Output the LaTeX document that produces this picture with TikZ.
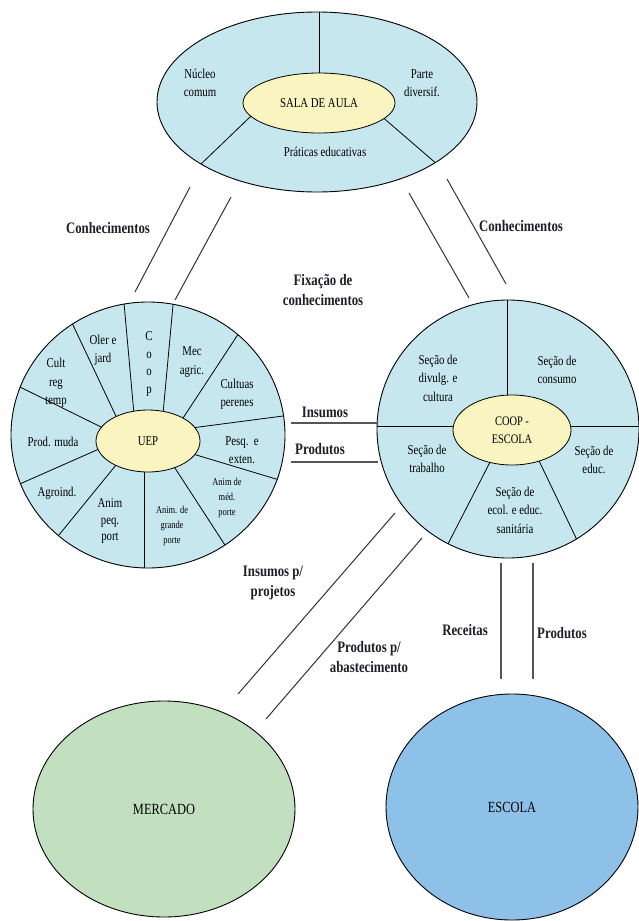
\documentclass[tikz,border=0pt]{standalone}
\usepackage{fontspec}
\setmainfont{Liberation Serif}[FakeStretch=0.8]
\usetikzlibrary{shapes.geometric,calc}
\definecolor{pale}{HTML}{C6E7EE}
\definecolor{yel}{HTML}{FAF4C0}
\definecolor{grn}{HTML}{C2E0C0}
\definecolor{blu}{HTML}{8EC1E8}
\definecolor{ink}{HTML}{1E1E28}
\definecolor{lin}{HTML}{333333}
\definecolor{lingray}{HTML}{555555}
\begin{document}
\begin{tikzpicture}[x=1pt,y=-1pt,
  outerell/.style={ellipse,draw=black,line width=0.9pt,fill=pale,inner sep=0pt},
  innerell/.style={ellipse,draw=black,line width=0.8pt,fill=yel,inner sep=0pt,font=\fontsize{13.5}{18}\selectfont,align=center},
  spoke/.style={draw=black,line width=0.8pt},
  txt/.style={font=\fontsize{13.5}{18.5}\selectfont,align=center,inner sep=0pt},
  smalltxt/.style={font=\fontsize{10.5}{15}\selectfont,align=center,inner sep=0pt},
  labtxt/.style={font=\fontsize{16}{19.5}\selectfont\bfseries,align=center,inner sep=0pt,text=ink},
  conn/.style={draw=lin,line width=1pt},
  conngray/.style={draw=lingray,line width=1.5pt},
]
\useasboundingbox (0,0) rectangle (638,921);

% ---------- top ellipse: SALA DE AULA ----------
\node[outerell,minimum width=320pt,minimum height=180pt] (top) at (317,102) {};
\begin{scope}
  \clip (top.center) ellipse [x radius=160pt, y radius=90pt];
  \draw[spoke] (319,90) -- (319,0);
  \draw[spoke] ($(200,165)!1.15!(250,117)$) -- ($(250,117)!1.5!(200,165)$);
  \draw[spoke] ($(438,165)!1.15!(387,121)$) -- ($(387,121)!1.5!(438,165)$);
\end{scope}
\node[innerell,minimum width=152pt,minimum height=60pt] (sala) at (319,103) {SALA DE AULA};
\node[txt] (nucleo) at (200,83) {Núcleo\\comum};
\node[txt] (parte) at (422,83) {Parte\\diversif.};
\node[txt] (praticas) at (325,152) {Práticas educativas};

% ---------- UEP ----------
\node[outerell,minimum width=274pt,minimum height=266pt] (uepo) at (148,435) {};
\begin{scope}
  \clip (uepo.center) ellipse [x radius=137pt, y radius=133pt];
  \foreach \ix/\iy/\ox/\oy in {133/403/124/303, 164/403/173/305, 187/412/233/342,
      199/427/283/416, 193/454/276/479, 173/465/223/542, 144/469/144/568,
      116/465/63/530, 99/449/22/483, 97/425/22/388, 114/412/73/325}{
    \draw[spoke] ($(\ox,\oy)!1.18!(\ix,\iy)$) -- ($(\ix,\iy)!1.3!(\ox,\oy)$);
  }
\end{scope}
\node[innerell,minimum width=104pt,minimum height=62pt] (uep) at (148,441) {UEP};
\node[txt] (oler) at (103,350) {Oler e\\jard};
\node[txt,font=\fontsize{13.5}{17.5}\selectfont] (coop) at (149,364) {C\\o\\o\\p};
\node[txt] (mec) at (192,362) {Mec\\agric.};
\node[txt] (cultuas) at (237,394) {Cultuas\\perenes};
\node[txt] (pesq) at (242,450) {Pesq.\ \ e\\exten.};
\node[smalltxt] (animmed) at (227,498) {Anim de\\méd.\\porte};
\node[smalltxt] (animgr) at (172,526) {Anim. de\\grande\\porte};
\node[txt,font=\fontsize{13.5}{16.5}\selectfont] (animpeq) at (110,521) {Anim\\peq.\\port};
\node[txt] (agroind) at (57,493) {Agroind.};
\node[txt] (prodmuda) at (53,442) {Prod. muda};
\node[txt] (cultreg) at (56,383) {Cult\\reg\\temp};

% ---------- COOP-ESCOLA ----------
\node[outerell,minimum width=262pt,minimum height=258pt] (coopo) at (508,429) {};
\begin{scope}
  \clip (coopo.center) ellipse [x radius=131pt, y radius=129pt];
  \foreach \ix/\iy/\ox/\oy in {507/390/507/300, 453/426/378/426, 572/426/638/426,
      487/468/450/540, 542/467/577/540}{
    \draw[spoke] ($(\ox,\oy)!1.18!(\ix,\iy)$) -- ($(\ix,\iy)!1.3!(\ox,\oy)$);
  }
\end{scope}
\node[innerell,minimum width=118pt,minimum height=70pt,font=\fontsize{13}{18}\selectfont] (coopesc) at (512,430) {COOP -\\ESCOLA};
\node[txt] (divulg) at (438,378) {Seção de\\divulg. e\\cultura};
\node[txt] (consumo) at (557,370) {Seção de\\consumo};
\node[txt] (trabalho) at (427,459) {Seção de\\trabalho};
\node[txt] (educ) at (594,460) {Seção de\\educ.};
\node[txt] (ecol) at (515,510) {Seção de\\ecol. e educ.\\sanitária};

% ---------- MERCADO / ESCOLA ----------
\node[ellipse,draw=black,line width=0.9pt,fill=grn,inner sep=0pt,minimum width=262pt,minimum height=216pt,font=\fontsize{15.5}{18}\selectfont] (mercado) at (164,809) {MERCADO};
\node[ellipse,draw=black,line width=0.9pt,fill=blu,inner sep=0pt,minimum width=252pt,minimum height=226pt,font=\fontsize{15.5}{18}\selectfont] (escola) at (512,807) {ESCOLA};

% ---------- connector end points ----------
\coordinate (k1a) at (190,187); \coordinate (k1b) at (135,292);
\coordinate (k2a) at (231,197); \coordinate (k2b) at (175,300);
\coordinate (k3a) at (409,193); \coordinate (k3b) at (469,298);
\coordinate (k4a) at (447,179); \coordinate (k4b) at (506,284);
\coordinate (i1a) at (291,423); \coordinate (i1b) at (377,423);
\coordinate (p1a) at (291,462); \coordinate (p1b) at (378,462);
\coordinate (m1a) at (395,513); \coordinate (m1b) at (238,694);
\coordinate (m2a) at (422,538); \coordinate (m2b) at (266,719);
\coordinate (e1a) at (501,563); \coordinate (e1b) at (501,679);
\coordinate (e2a) at (533,563); \coordinate (e2b) at (533,679);

\draw[conn] (k1a) -- (k1b);
\draw[conn] (k2a) -- (k2b);
\draw[conn] (k3a) -- (k3b);
\draw[conn] (k4a) -- (k4b);
\draw[conngray] (i1a) -- (i1b);
\draw[conngray] (p1a) -- (p1b);
\draw[conn] (m1a) -- (m1b);
\draw[conn] (m2a) -- (m2b);
\draw[conngray] (e1a) -- (e1b);
\draw[conngray] (e2a) -- (e2b);

% ---------- labels ----------
\node[labtxt] (lconh1) at (108,228) {Conhecimentos};
\node[labtxt] (lconh2) at (521,226) {Conhecimentos};
\node[labtxt] (lfix) at (323,290) {Fixação de\\conhecimentos};
\node[labtxt] (lins) at (325,412) {Insumos};
\node[labtxt] (lprod) at (320,449) {Produtos};
\node[labtxt] (linsp) at (273,583) {Insumos p/\\projetos};
\node[labtxt] (lprodp) at (369,657) {Produtos p/\\abastecimento};
\node[labtxt] (lrec) at (465,630) {Receitas};
\node[labtxt] (lprod2) at (562,633) {Produtos};
\end{tikzpicture}
\end{document}
